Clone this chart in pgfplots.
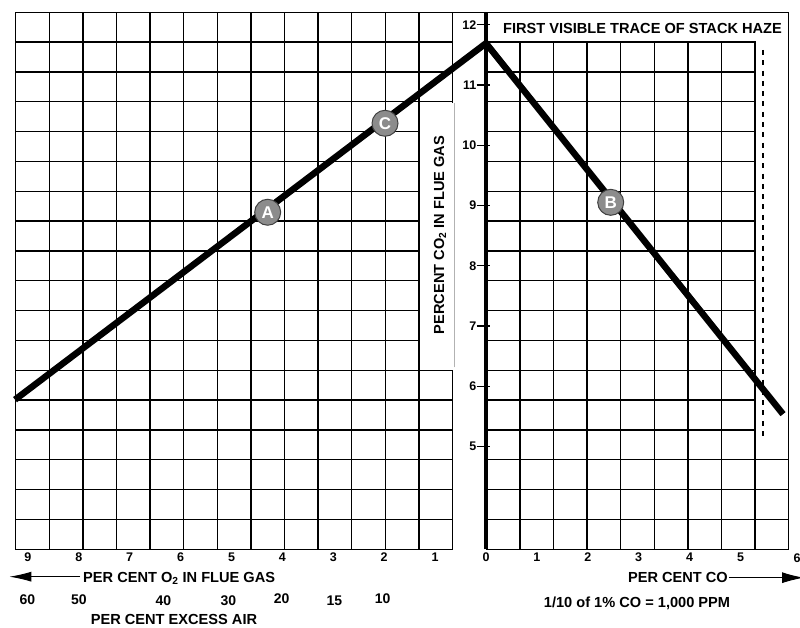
\documentclass[border=0pt]{standalone}
\usepackage{fontspec}
\setmainfont{Liberation Sans}
\usepackage{pgfplots}
\pgfplotsset{compat=1.18}
\usetikzlibrary{arrows.meta}
\newcommand{\bigtxt}{\bfseries\fontsize{14.6}{16}\selectfont}
\begin{document}
\bfseries\fontsize{12}{14}\selectfont
\begin{tikzpicture}[x=1pt,y=1pt]
\useasboundingbox[fill=white] (0,0) rectangle (800,628);
% ---- grid (decorative squares) ----
\begin{axis}[at={(15.7pt,78.7pt)}, anchor=south west, scale only axis,
  width=773pt, height=537pt,
  xmin=0, xmax=23, ymin=0, ymax=18,
  xtick={1,...,22}, ytick={1,...,17},
  xticklabel=\empty, yticklabel=\empty,
  tick style={draw=none}, grid=major,
  grid style={black, line width=1.4pt},
  axis line style={black, line width=1.4pt},
  clip=false]
\fill[white] (axis cs:12.022,6.025) rectangle (axis cs:13.02,14.975);
\fill[white] (axis cs:13.022,-0.1) rectangle (axis cs:13.99,17.975);
\fill[white] (axis cs:14.02,17.025) rectangle (axis cs:22.98,17.975);
\fill[white] (axis cs:22.02,3.025) rectangle (axis cs:22.98,17.975);
\draw[black!30, line width=0.8pt] (axis cs:13.05,6.1) -- (axis cs:13.05,14.95);
\end{axis}
% ---- data axis ----
\begin{axis}[at={(15.7pt,78.7pt)}, anchor=south west, scale only axis,
  width=773pt, height=537pt,
  xmin=-9.2397, xmax=5.9470, ymin=3.298, ymax=12.206,
  axis x line=bottom, axis y line=center,
  x axis line style={draw=none},
  y axis line style={line width=4pt, -},
  tick label style={font=\bfseries\fontsize{12.5}{14}\selectfont},
  xtick={-9,...,5},
  xticklabels={9,8,7,6,5,4,3,2,1,0,1,2,3,4,5},
  xtick style={draw=none},
  xticklabel style={anchor=base, yshift=-6pt},
  ytick={5,...,12},
  yticklabels={5,6,7,8,9,10,11,12},
  ytick style={line width=1.3pt, black, xshift=-3pt},
  major tick length=13pt, tick align=center,
  yticklabel style={anchor=east, inner sep=0pt, xshift=-3pt},
  clip=false]
\addplot[black, line width=6.5pt] coordinates {(-9.253,5.78) (0,11.692) (5.835,5.54)};
\addplot[black, line width=1.7pt, dash pattern=on 5pt off 5.3pt] coordinates {(5.448,11.581) (5.448,5.111)};
\addplot[only marks, mark=*, mark size=13pt,
  mark options={fill=black!45, draw=black!75, line width=1pt},
  point meta=explicit symbolic, nodes near coords,
  nodes near coords style={anchor=center, text=white, font=\bfseries\fontsize{17}{17}\selectfont}]
  coordinates {(-4.289,8.889) [A] (-1.984,10.365) [C] (2.450,9.054) [B]};
\end{axis}
% ---- texts ----
\node[anchor=base, inner sep=0pt] at (642.5,594.7) {\bigtxt FIRST VISIBLE TRACE OF STACK HAZE};
\node[anchor=base, inner sep=0pt, rotate=90] at (444,393) {\bigtxt PERCENT CO\textsubscript{2} IN FLUE GAS};
\node[anchor=base, font=\bfseries\fontsize{12.5}{14}\selectfont] at (797,65.7) {6};
\node[anchor=base west, inner sep=0pt] at (83,45.7) {\bigtxt PER CENT O\textsubscript{2} IN FLUE GAS};
\draw[line width=1pt, -{Latex[length=22pt,width=10pt]}] (80,51.3) -- (9.3,51.3);
\begin{scope}[every node/.style={anchor=base, inner sep=0pt, font=\bfseries\fontsize{14}{16}\selectfont}]
\node at (27.3,23) {60};
\node at (79,23) {50};
\node at (163.3,22) {40};
\node at (228.3,22) {30};
\node at (281.7,24) {20};
\node at (334.3,22) {15};
\node at (382.7,24) {10};
\end{scope}
\node[anchor=base, inner sep=0pt] at (174,3) {\bigtxt PER CENT EXCESS AIR};
\node[anchor=base east, inner sep=0pt] at (728,45.3) {\bigtxt PER CENT CO};
\draw[line width=1pt, -{Latex[length=22pt,width=11pt]}] (729,50.3) -- (804,50.3);
\node[anchor=base, inner sep=0pt] at (637,20.7) {\bigtxt 1/10 of 1\% CO = 1,000 PPM};
\end{tikzpicture}
\end{document}
